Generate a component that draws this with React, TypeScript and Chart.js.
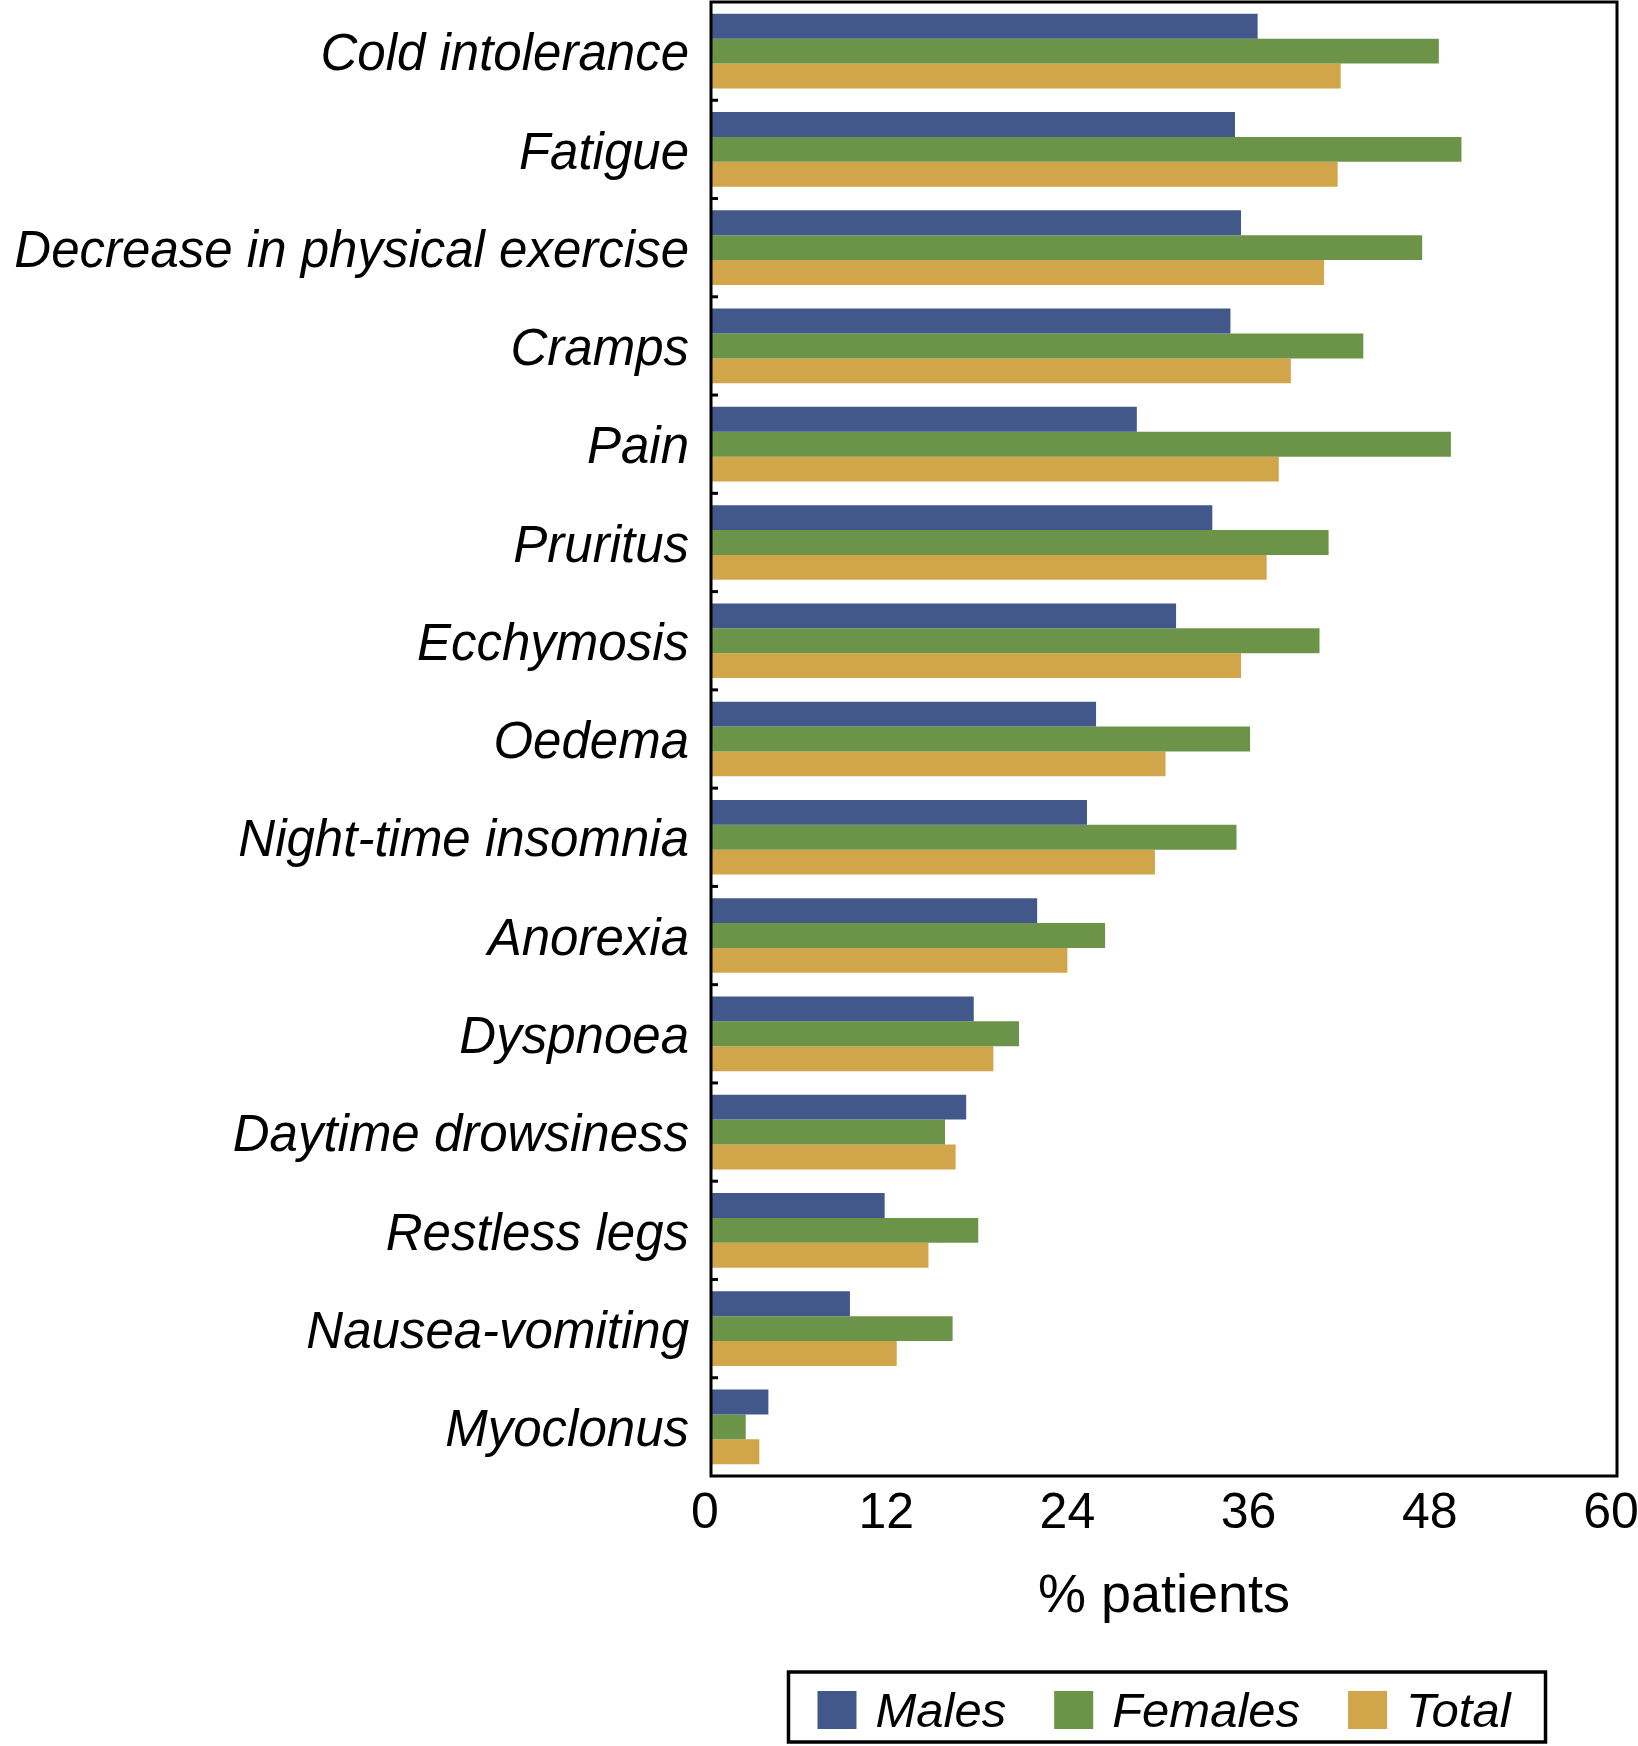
import { useEffect, useRef } from "react"
import { Chart, registerables } from "chart.js"

Chart.register(...registerables)

// ── data ────────────────────────────────────────────────────────────────
const symptoms = [
  "Cold intolerance",
  "Fatigue",
  "Decrease in physical exercise",
  "Cramps",
  "Pain",
  "Pruritus",
  "Ecchymosis",
  "Oedema",
  "Night-time insomnia",
  "Anorexia",
  "Dyspnoea",
  "Daytime drowsiness",
  "Restless legs",
  "Nausea-vomiting",
  "Myoclonus",
]

const males = [36.2, 34.7, 35.1, 34.4, 28.2, 33.2, 30.8, 25.5, 24.9, 21.6, 17.4, 16.9, 11.5, 9.2, 3.8]
const females = [48.2, 49.7, 47.1, 43.2, 49.0, 40.9, 40.3, 35.7, 34.8, 26.1, 20.4, 15.5, 17.7, 16.0, 2.3]
const total = [41.7, 41.5, 40.6, 38.4, 37.6, 36.8, 35.1, 30.1, 29.4, 23.6, 18.7, 16.2, 14.4, 12.3, 3.2]

const seriesNames = ["Males", "Females", "Total"]
const seriesColors = ["#42578a", "#6c9449", "#d1a54a"]

const xTicks = [0, 12, 24, 36, 48, 60]

const FONT = "'Liberation Sans', Arial, Helvetica, sans-serif"

// frame, inner category ticks and the legend box
const framePlugin = {
  id: "frame",
  afterDraw(chart: Chart) {
    const { ctx, chartArea } = chart
    const y = chart.scales.y
    ctx.save()

    // small tick marks between categories on the left axis
    ctx.strokeStyle = "#000"
    ctx.lineWidth = 3
    const n = chart.data.labels!.length
    for (let i = 0; i < n - 1; i++) {
      const yy = (y.getPixelForTick(i) + y.getPixelForTick(i + 1)) / 2
      ctx.beginPath()
      ctx.moveTo(chartArea.left, yy)
      ctx.lineTo(chartArea.left + 7, yy)
      ctx.stroke()
    }

    // plot frame
    ctx.lineWidth = 3
    ctx.strokeRect(chartArea.left, chartArea.top, chartArea.right - chartArea.left, chartArea.bottom - chartArea.top)

    // legend
    ctx.font = `italic 49px ${FONT}`
    ctx.textBaseline = "alphabetic"
    ctx.textAlign = "left"
    const sw = 39
    const gapText = 19
    const gapItem = 48
    const padL = 29
    const padR = 35
    const items = chart.data.datasets.map(d => ({ label: d.label as string, color: d.backgroundColor as string }))
    const widths = items.map(it => sw + gapText + ctx.measureText(it.label).width)
    const inner = widths.reduce((a, b) => a + b, 0) + gapItem * (items.length - 1)
    const boxW = inner + padL + padR
    const boxH = 70
    const cx = (chartArea.left + chartArea.right) / 2 + 3
    const boxX = cx - boxW / 2
    const boxY = 1672
    ctx.lineWidth = 3.5
    ctx.strokeRect(boxX, boxY, boxW, boxH)
    let x = boxX + padL
    const my = 1710
    items.forEach((it, i) => {
      ctx.fillStyle = it.color
      ctx.fillRect(x, my - 19, sw, 38)
      ctx.fillStyle = "#000"
      ctx.fillText(it.label, x + sw + gapText, my + 17)
      x += widths[i] + gapItem
    })

    ctx.restore()
  },
}

export default function App() {
  const canvasRef = useRef<HTMLCanvasElement>(null)

  useEffect(() => {
    if (!canvasRef.current) return
    const chart = new Chart(canvasRef.current, {
      type: "bar",
      data: {
        labels: symptoms,
        datasets: [males, females, total].map((values, i) => ({
          label: seriesNames[i],
          data: values,
          backgroundColor: seriesColors[i],
          borderWidth: 0,
          barPercentage: 1.0,
          categoryPercentage: 0.76,
        })),
      },
      options: {
        indexAxis: "y",
        responsive: true,
        maintainAspectRatio: false,
        animation: false,
        layout: { padding: { top: 2, right: 21, left: 0, bottom: 110 } },
        plugins: {
          legend: { display: false },
          tooltip: { enabled: false },
        },
        scales: {
          x: {
            min: 0,
            max: 60,
            afterBuildTicks: (s: any) => {
              s.ticks = xTicks.map(v => ({ value: v }))
            },
            afterFit: (s: any) => {
              s.height = 160
              s.paddingLeft = 0
              s.paddingRight = 0
            },
            grid: { display: false, drawTicks: false },
            border: { display: false },
            ticks: {
              color: "#000",
              padding: 8,
              labelOffset: -6,
              font: { family: FONT, size: 50 },
              maxRotation: 0,
            },
            title: {
              display: true,
              text: "% patients",
              color: "#000",
              font: { family: FONT, size: 54 },
              padding: { top: 0, bottom: 6 },
            },
          },
          y: {
            afterFit: (s: any) => {
              s.width = 711
              s.paddingTop = 0
              s.paddingBottom = 0
            },
            grid: { display: false, drawTicks: false },
            border: { display: false },
            ticks: {
              color: "#000",
              padding: 22,
              // blank first line nudges the label a few pixels down, like the original
              callback: (_v: any, i: number) => ["", symptoms[i]],
              font: { family: FONT, size: 51, style: "italic", lineHeight: "10px" },
            },
          },
        },
      },
      plugins: [framePlugin],
    })
    return () => chart.destroy()
  }, [])

  return (
    <div style={{ position: "absolute", left: 0, top: 0, width: 1638, height: 1746, background: "#fff" }}>
      <canvas ref={canvasRef}></canvas>
    </div>
  )
}
